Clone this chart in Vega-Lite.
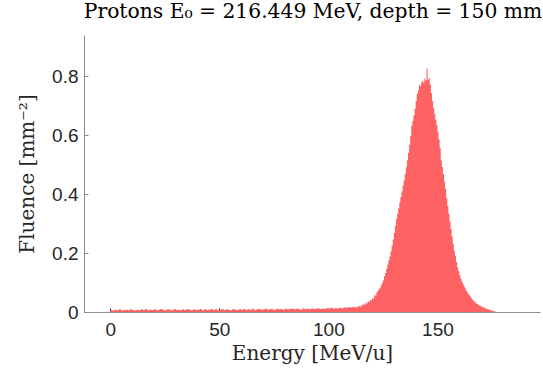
{
  "$schema": "https://vega.github.io/schema/vega-lite/v6.json",
  "width": 456,
  "height": 277,
  "autosize": {"type": "none"},
  "padding": {"left": 84, "top": 35, "right": 3, "bottom": 60},
  "background": "white",
  "title": {
    "text": "Protons E₀ = 216.449 MeV, depth = 150 mm",
    "font": "DejaVu Serif",
    "fontSize": 20.3,
    "fontWeight": "normal",
    "color": "#000000",
    "anchor": "middle",
    "dx": 1,
    "offset": 13
  },
  "config": {"view": {"stroke": null}},
  "data": {
    "values": [
      {"e":0,"f":0.007},{"e":1,"f":0.005},{"e":2,"f":0.008},{"e":3,"f":0.006},{"e":4,"f":0.009},{"e":5,"f":0.005},{"e":6,"f":0.007},{"e":7,"f":0.008},{"e":8,"f":0.006},{"e":9,"f":0.009},
      {"e":10,"f":0.007},{"e":11,"f":0.005},{"e":12,"f":0.008},{"e":13,"f":0.006},{"e":14,"f":0.009},{"e":15,"f":0.007},{"e":16,"f":0.010},{"e":17,"f":0.006},{"e":18,"f":0.008},{"e":19,"f":0.007},
      {"e":20,"f":0.009},{"e":21,"f":0.006},{"e":22,"f":0.008},{"e":23,"f":0.010},{"e":24,"f":0.007},{"e":25,"f":0.006},{"e":26,"f":0.009},{"e":27,"f":0.008},{"e":28,"f":0.006},{"e":29,"f":0.010},
      {"e":30,"f":0.007},{"e":31,"f":0.008},{"e":32,"f":0.006},{"e":33,"f":0.009},{"e":34,"f":0.007},{"e":35,"f":0.010},{"e":36,"f":0.008},{"e":37,"f":0.006},{"e":38,"f":0.009},{"e":39,"f":0.007},
      {"e":40,"f":0.008},{"e":41,"f":0.010},{"e":42,"f":0.006},{"e":43,"f":0.009},{"e":44,"f":0.007},{"e":45,"f":0.008},{"e":46,"f":0.010},{"e":47,"f":0.007},{"e":48,"f":0.009},{"e":49,"f":0.006},
      {"e":50,"f":0.008},{"e":51,"f":0.010},{"e":52,"f":0.007},{"e":53,"f":0.009},{"e":54,"f":0.008},{"e":55,"f":0.006},{"e":56,"f":0.010},{"e":57,"f":0.008},{"e":58,"f":0.007},{"e":59,"f":0.009},
      {"e":60,"f":0.008},{"e":61,"f":0.010},{"e":62,"f":0.007},{"e":63,"f":0.009},{"e":64,"f":0.008},{"e":65,"f":0.011},{"e":66,"f":0.007},{"e":67,"f":0.009},{"e":68,"f":0.010},{"e":69,"f":0.008},
      {"e":70,"f":0.009},{"e":71,"f":0.011},{"e":72,"f":0.008},{"e":73,"f":0.010},{"e":74,"f":0.009},{"e":75,"f":0.007},{"e":76,"f":0.011},{"e":77,"f":0.009},{"e":78,"f":0.010},{"e":79,"f":0.008},
      {"e":80,"f":0.011},{"e":81,"f":0.009},{"e":82,"f":0.010},{"e":83,"f":0.012},{"e":84,"f":0.009},{"e":85,"f":0.011},{"e":86,"f":0.010},{"e":87,"f":0.008},{"e":88,"f":0.012},{"e":89,"f":0.010},
      {"e":90,"f":0.011},{"e":91,"f":0.009},{"e":92,"f":0.012},{"e":93,"f":0.010},{"e":94,"f":0.011},{"e":95,"f":0.013},{"e":96,"f":0.010},{"e":97,"f":0.012},{"e":98,"f":0.011},{"e":99,"f":0.013},
      {"e":100,"f":0.012},{"e":101,"f":0.014},{"e":102,"f":0.011},{"e":103,"f":0.013},{"e":104,"f":0.012},{"e":105,"f":0.014},{"e":106,"f":0.013},{"e":107,"f":0.015},{"e":108,"f":0.014},{"e":109,"f":0.016},
      {"e":110,"f":0.015},{"e":111,"f":0.017},
      {"e":112.0,"f":0.016},{"e":112.5,"f":0.014},{"e":113.0,"f":0.019},{"e":113.5,"f":0.017},{"e":114.0,"f":0.021},{"e":114.5,"f":0.019},{"e":115.0,"f":0.024},{"e":115.5,"f":0.022},
      {"e":116.0,"f":0.027},{"e":116.5,"f":0.025},{"e":117.0,"f":0.031},{"e":117.5,"f":0.029},{"e":118.0,"f":0.036},{"e":118.5,"f":0.034},{"e":119.0,"f":0.041},{"e":119.5,"f":0.039},
      {"e":120.0,"f":0.047},{"e":120.5,"f":0.045},{"e":121.0,"f":0.057},{"e":121.5,"f":0.056},{"e":122.0,"f":0.066},{"e":122.5,"f":0.071},{"e":123.0,"f":0.078},{"e":123.5,"f":0.082},
      {"e":124.0,"f":0.090},{"e":124.5,"f":0.098},{"e":125.0,"f":0.108},{"e":125.5,"f":0.121},{"e":126.0,"f":0.132},{"e":126.5,"f":0.147},{"e":127.0,"f":0.160},{"e":127.5,"f":0.176},
      {"e":128.0,"f":0.188},{"e":128.5,"f":0.205},{"e":129.0,"f":0.225},{"e":129.5,"f":0.246},{"e":130.0,"f":0.268},{"e":130.5,"f":0.292},{"e":131.0,"f":0.316},{"e":131.5,"f":0.333},
      {"e":132.0,"f":0.352},{"e":132.5,"f":0.372},{"e":133.0,"f":0.390},{"e":133.5,"f":0.409},{"e":134.0,"f":0.428},{"e":134.5,"f":0.446},{"e":135.0,"f":0.468},{"e":135.5,"f":0.491},
      {"e":136.0,"f":0.515},{"e":136.5,"f":0.540},{"e":137.0,"f":0.567},{"e":137.5,"f":0.598},{"e":138.0,"f":0.632},{"e":138.5,"f":0.648},{"e":139.0,"f":0.668},{"e":139.5,"f":0.690},
      {"e":140.0,"f":0.716},{"e":140.5,"f":0.741},{"e":141.0,"f":0.752},{"e":141.5,"f":0.770},{"e":142.0,"f":0.766},{"e":142.5,"f":0.779},{"e":143.0,"f":0.785},{"e":143.5,"f":0.778},
      {"e":144.0,"f":0.792},{"e":144.5,"f":0.786},{"e":145.0,"f":0.826},{"e":145.5,"f":0.788},{"e":146.0,"f":0.795},{"e":146.5,"f":0.772},{"e":147.0,"f":0.742},{"e":147.5,"f":0.716},
      {"e":148.0,"f":0.692},{"e":148.5,"f":0.672},{"e":149.0,"f":0.652},{"e":149.5,"f":0.634},{"e":150.0,"f":0.610},{"e":150.5,"f":0.585},{"e":151.0,"f":0.556},{"e":151.5,"f":0.515},
      {"e":152.0,"f":0.492},{"e":152.5,"f":0.468},{"e":153.0,"f":0.443},{"e":153.5,"f":0.418},{"e":154.0,"f":0.386},{"e":154.5,"f":0.360},{"e":155.0,"f":0.333},{"e":155.5,"f":0.307},
      {"e":156.0,"f":0.282},{"e":156.5,"f":0.256},{"e":157.0,"f":0.232},{"e":157.5,"f":0.208},{"e":158.0,"f":0.189},{"e":158.5,"f":0.170},{"e":159.0,"f":0.152},{"e":159.5,"f":0.139},
      {"e":160.0,"f":0.125},{"e":160.5,"f":0.114},{"e":161.0,"f":0.104},{"e":161.5,"f":0.096},{"e":162.0,"f":0.088},{"e":162.5,"f":0.081},{"e":163.0,"f":0.073},{"e":163.5,"f":0.067},
      {"e":164.0,"f":0.061},{"e":164.5,"f":0.057},{"e":165.0,"f":0.051},{"e":165.5,"f":0.046},{"e":166.0,"f":0.041},{"e":166.5,"f":0.037},{"e":167.0,"f":0.033},{"e":167.5,"f":0.030},
      {"e":168.0,"f":0.027},{"e":168.5,"f":0.025},{"e":169.0,"f":0.022},{"e":169.5,"f":0.021},{"e":170.0,"f":0.019},{"e":170.5,"f":0.017},{"e":171.0,"f":0.015},{"e":171.5,"f":0.013},
      {"e":172.0,"f":0.012},{"e":172.5,"f":0.010},{"e":173.0,"f":0.009},{"e":173.5,"f":0.008},{"e":174.0,"f":0.007},{"e":174.5,"f":0.005},{"e":175.0,"f":0.004},{"e":175.5,"f":0.003},
      {"e":176.0,"f":0.002},{"e":176.5,"f":0.001},{"e":177.0,"f":0}
    ]
  },
  "mark": {"type": "area", "interpolate": "step-after", "color": "#ff6262", "clip": true},
  "encoding": {
    "x": {
      "field": "e",
      "type": "quantitative",
      "scale": {"domain": [-12, 197], "nice": false, "zero": false},
      "axis": {
        "values": [0, 50, 100, 150],
        "title": "Energy [MeV/u]",
        "titleFont": "DejaVu Serif",
        "titleFontSize": 20,
        "titleFontWeight": "normal",
        "titleColor": "#262626",
        "titlePadding": 4,
        "labelFont": "Liberation Sans",
        "labelFontSize": 19,
        "labelColor": "#262626",
        "labelPadding": 12,
        "domainColor": "#8c8c8c",
        "tickColor": "#262626",
        "tickSize": -4,
        "grid": false
      }
    },
    "y": {
      "field": "f",
      "type": "quantitative",
      "scale": {"domain": [0, 0.94], "nice": false},
      "axis": {
        "values": [0, 0.2, 0.4, 0.6, 0.8],
        "labelExpr": "datum.value == 0 ? '0' : format(datum.value, '.1f')",
        "title": "Fluence [mm⁻²]",
        "titleFont": "DejaVu Serif",
        "titleFontSize": 20,
        "titleFontWeight": "normal",
        "titleColor": "#262626",
        "titlePadding": 14,
        "labelFont": "Liberation Sans",
        "labelFontSize": 19,
        "labelColor": "#262626",
        "labelPadding": 10,
        "domainColor": "#8c8c8c",
        "tickColor": "#8c8c8c",
        "tickSize": -4,
        "grid": false
      }
    }
  }
}
